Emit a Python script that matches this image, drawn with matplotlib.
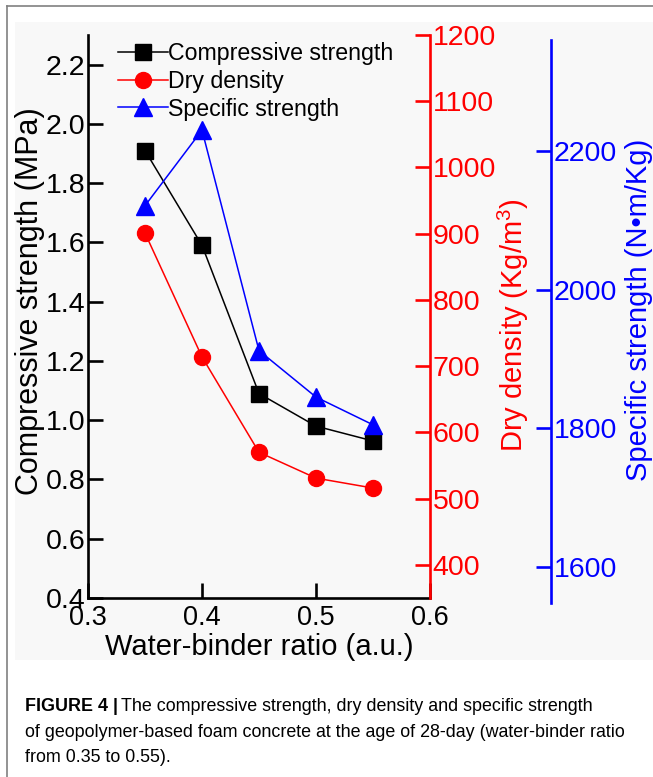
import matplotlib
matplotlib.use("Agg")
import matplotlib.pyplot as plt
from matplotlib.patches import Rectangle
from matplotlib.lines import Line2D

plt.rcParams["font.family"] = ["Liberation Sans", "DejaVu Sans"]
plt.rcParams["mathtext.fontset"] = "custom"
plt.rcParams["mathtext.rm"] = "Liberation Sans"

# data
wb_ratio = [0.35, 0.40, 0.45, 0.50, 0.55]
compressive = [1.91, 1.59, 1.09, 0.98, 0.93]        # MPa
dry_density = [901, 714, 570, 531, 516]             # kg/m3
specific = [2121, 2230, 1912, 1845, 1805]           # N.m/kg

x_ticks = [0.3, 0.4, 0.5, 0.6]
cs_ticks = [0.4, 0.6, 0.8, 1.0, 1.2, 1.4, 1.6, 1.8, 2.0, 2.2]
dd_ticks = [400, 500, 600, 700, 800, 900, 1000, 1100, 1200]
ss_ticks = [1600, 1800, 2000, 2200]

W, H = 653, 777
TICK_FS = 20.5
LW_AX = 1.9

fig = plt.figure(figsize=(W / 100, H / 100), dpi=100)
fig.patch.set_facecolor("white")

# frame + light grey panel behind the chart
fig.add_artist(Rectangle((15 / W, 1 - 660 / H), 1, (660 - 22) / H,
                         transform=fig.transFigure, facecolor="#f8f8f8",
                         edgecolor="none", zorder=0))
fig.add_artist(Line2D([7 / W, 7 / W], [0, 1 - 6 / H], transform=fig.transFigure,
                      color="#808080", lw=1.2))
fig.add_artist(Line2D([7 / W, 1], [1 - 6 / H, 1 - 6 / H], transform=fig.transFigure,
                      color="#808080", lw=1.2))


def px_axes(l, t, r, b):
    return [l / W, 1 - b / H, (r - l) / W, (b - t) / H]


ax = fig.add_axes(px_axes(88, 35, 430, 598))
ax.patch.set_alpha(0)
ax2 = ax.twinx()
ax3 = fig.add_axes(px_axes(88, 40, 430, 603), sharex=ax)
ax3.patch.set_alpha(0)

# --- compressive strength (left) ---
ax.plot(wb_ratio, compressive, "-s", color="black", lw=1.1, ms=11.5,
        label="Compressive strength")
ax.set_xlim(0.3, 0.6)
ax.set_ylim(0.4, 2.3)
ax.set_xticks(x_ticks)
ax.set_xticklabels([f"{v:.1f}" for v in x_ticks])
ax.set_yticks(cs_ticks)
ax.set_yticklabels([f"{v:.1f}" for v in cs_ticks])
ax.spines[["top", "right"]].set_visible(False)
for s in ["left", "bottom"]:
    ax.spines[s].set_linewidth(LW_AX)
ax.tick_params(direction="in", length=11, width=LW_AX, labelsize=TICK_FS, pad=2)
ax.tick_params(axis="x", pad=5, labelsize=19.5)
ax.set_xlabel("Water-binder ratio (a.u.)", fontsize=21, va="top")
ax.xaxis.set_label_coords(0.5, -0.062)
ax.set_ylabel("Compressive strength (MPa)", fontsize=22, va="center")
ax.yaxis.set_label_coords(-0.17, 0.528)

# --- dry density (red, right) ---
red = "#ff0000"
ax2.plot(wb_ratio, dry_density, "-o", color=red, lw=1.1, ms=11.5, label="Dry density")
ax2.set_ylim(350, 1200)
ax2.set_yticks(dd_ticks)
ax2.spines[["top", "left", "bottom"]].set_visible(False)
ax2.spines["right"].set_color(red)
ax2.spines["right"].set_linewidth(LW_AX)
ax2.tick_params(axis="y", direction="in", length=11, width=LW_AX, colors=red,
                labelsize=TICK_FS, pad=2)
ax2.set_ylabel("Dry density (Kg/m$^{\\mathrm{3}}$)", fontsize=21, color=red,
               va="center", rotation=90)
ax2.yaxis.set_label_coords(1.245, 0.485)

# --- specific strength (blue, offset right axis) ---
blue = "#0000ff"
ax3.plot(wb_ratio, specific, "-^", color=blue, lw=1.1, ms=13, label="Specific strength")
ax3.set_ylim(1548, 2360)
ax3.set_yticks(ss_ticks)
ax3.yaxis.tick_right()
ax3.yaxis.set_label_position("right")
ax3.spines[["top", "left", "bottom"]].set_visible(False)
ax3.spines["right"].set_position(("axes", 463 / 342))
ax3.spines["right"].set_color(blue)
ax3.spines["right"].set_linewidth(LW_AX)
ax3.tick_params(axis="x", bottom=False, labelbottom=False)
ax3.tick_params(axis="y", direction="in", length=11, width=LW_AX, colors=blue,
                labelsize=TICK_FS, pad=2)
ax3.set_ylabel("Specific strength (N\u2022m/Kg)", fontsize=21, color=blue,
               va="center", rotation=90)
ax3.yaxis.set_label_coords(1.61, 0.52)

handles = [ax.lines[0], ax2.lines[0], ax3.lines[0]]
leg = ax3.legend(handles=handles, loc="upper left", bbox_to_anchor=(0.088, 0.996),
                 frameon=False, fontsize=16.7, handlelength=2.15, handletextpad=0.0,
                 labelspacing=0.2, borderpad=0, borderaxespad=0)

# --- caption ---
cap_font = ["Liberation Sans", "DejaVu Sans"]
cap_fs = 12.9
t1 = fig.text(25 / W, 1 - 711 / H, "FIGURE 4 |", fontsize=cap_fs, fontweight="bold",
              family=cap_font, va="baseline")
fig.canvas.draw()
bb = t1.get_window_extent()
fig.text(bb.x1 / W + 3 / W, 1 - 711 / H,
         "The compressive strength, dry density and specific strength",
         fontsize=cap_fs, family=cap_font, va="baseline")
fig.text(25 / W, 1 - 737 / H,
         "of geopolymer-based foam concrete at the age of 28-day (water-binder ratio",
         fontsize=cap_fs, family=cap_font, va="baseline")
fig.text(25 / W, 1 - 762 / H, "from 0.35 to 0.55).",
         fontsize=cap_fs, family=cap_font, va="baseline")

fig.savefig("out.png", dpi=100)
